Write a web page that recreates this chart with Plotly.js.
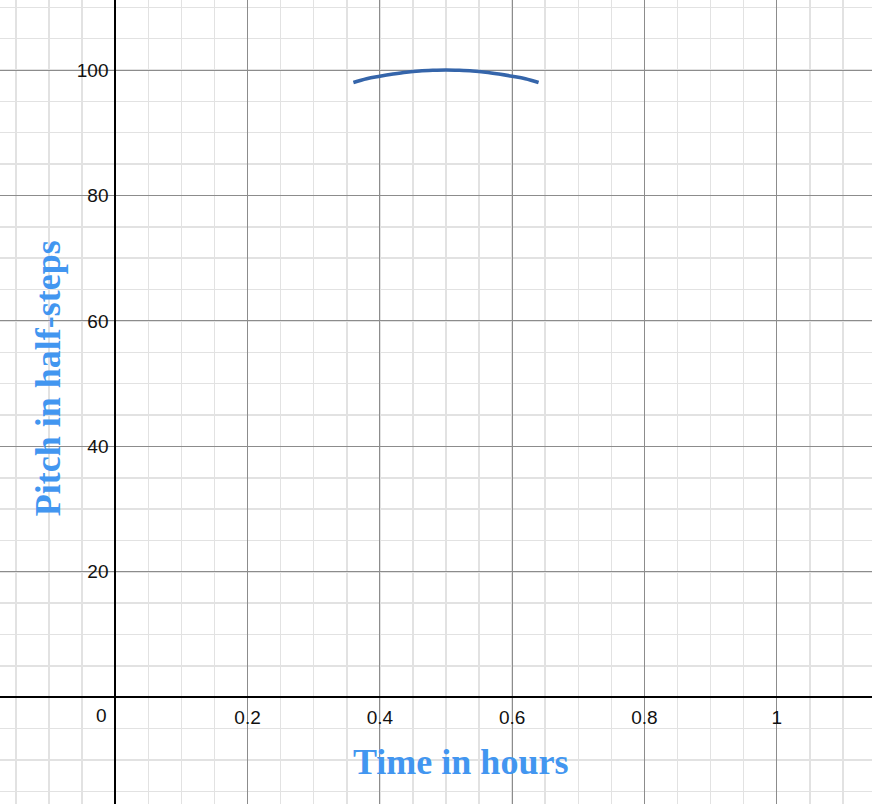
<!DOCTYPE html>
<html>
<head>
<meta charset="utf-8">
<script src="https://cdn.plot.ly/plotly-3.0.1.min.js"></script>
<style>
html,body{margin:0;padding:0;background:#fff;}
#chart{width:872px;height:804px;}
</style>
</head>
<body>
<div id="chart"></div>
<script>
// Curve (time in hours, pitch in half-steps)
const timeHours = [0.36, 0.38, 0.40, 0.42, 0.44, 0.46, 0.48, 0.50, 0.52, 0.54, 0.56, 0.58, 0.60, 0.62, 0.64];
const pitchHalfSteps = [98.0, 98.6, 99.0, 99.35, 99.65, 99.85, 99.95, 100.0, 99.95, 99.85, 99.65, 99.35, 99.0, 98.6, 98.0];

const xTickVals = [0.2, 0.4, 0.6, 0.8, 1];
const xTickText = ["0.2", "0.4", "0.6", "0.8", "1"];
const yTickVals = [20, 40, 60, 80, 100];
const yTickText = ["20", "40", "60", "80", "100"];
const originLabel = "0";
const xTitle = "Time in hours";
const yTitle = "Pitch in half-steps";

const W = 872, H = 804;
const xRange = [-0.1743, 1.1441];
const yRange = [-17.01, 111.16];
const xPos = (0 - yRange[0]) / (yRange[1] - yRange[0]);
const yPos = (0 - xRange[0]) / (xRange[1] - xRange[0]);

const titleColor = "#4296f0";
const tickFont = {family: "Liberation Sans, Arial, sans-serif", size: 19, color: "#111"};

const trace = {
  x: timeHours,
  y: pitchHalfSteps,
  type: "scatter",
  mode: "lines",
  line: {color: "#3565aa", width: 3.6, shape: "spline"},
  hoverinfo: "skip"
};

const layout = {
  width: W, height: H,
  margin: {l: 0, r: 0, t: 0, b: 0, pad: 0},
  paper_bgcolor: "#fff",
  plot_bgcolor: "#fff",
  showlegend: false,
  xaxis: {
    range: xRange,
    anchor: "free",
    position: xPos,
    tickvals: xTickVals,
    ticktext: xTickText,
    tickfont: tickFont,
    ticks: "outside",
    ticklen: 3,
    tickcolor: "rgba(0,0,0,0)",
    showgrid: true,
    gridcolor: "#8c8c8c",
    gridwidth: 1,
    minor: {dtick: 0.05, tick0: 0, showgrid: true, gridcolor: "#e2e2e2", gridwidth: 1.5, ticks: ""},
    zeroline: true,
    zerolinecolor: "#000",
    zerolinewidth: 2,
    showline: false,
    fixedrange: true
  },
  yaxis: {
    range: yRange,
    anchor: "free",
    position: yPos,
    tickvals: yTickVals,
    ticktext: yTickText,
    tickfont: tickFont,
    ticks: "outside",
    ticklen: 3,
    tickcolor: "rgba(0,0,0,0)",
    showgrid: true,
    gridcolor: "#8c8c8c",
    gridwidth: 1,
    minor: {dtick: 5, tick0: 0, showgrid: true, gridcolor: "#e2e2e2", gridwidth: 1.5, ticks: ""},
    zeroline: true,
    zerolinecolor: "#000",
    zerolinewidth: 2,
    showline: false,
    fixedrange: true
  },
  annotations: [
    {x: -0.0206, y: -2.98, xref: "x", yref: "y", text: originLabel, showarrow: false,
     font: tickFont, xanchor: "center", yanchor: "middle"},
    {x: 0.5215, y: -10.3, xref: "x", yref: "y", text: "<b>" + xTitle + "</b>", showarrow: false,
     font: {family: "Liberation Serif, Times New Roman, serif", size: 36, color: titleColor},
     xanchor: "center", yanchor: "middle"},
    {x: -0.1015, y: 50.9, xref: "x", yref: "y", text: "<b>" + yTitle + "</b>", showarrow: false,
     textangle: -90,
     font: {family: "Liberation Serif, Times New Roman, serif", size: 36, color: titleColor},
     xanchor: "center", yanchor: "middle"}
  ]
};

Plotly.newPlot("chart", [trace], layout, {displayModeBar: false, staticPlot: true});
</script>
</body>
</html>
